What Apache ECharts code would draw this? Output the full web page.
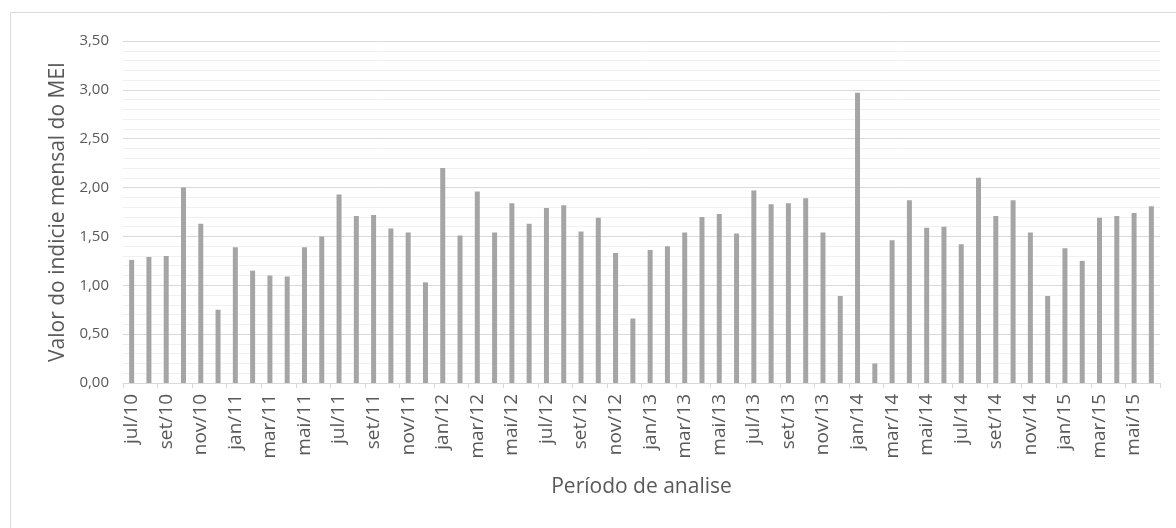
<!DOCTYPE html>
<html>
<head>
<meta charset="utf-8">
<script src="https://cdn.jsdelivr.net/npm/echarts@6/dist/echarts.min.js"></script>
<style>
  html, body { margin: 0; padding: 0; background: #ffffff; }
  #chart { width: 1176px; height: 528px; }
</style>
</head>
<body>
<div id="chart"></div>
<script>
// Monthly periods, jul/10 to jun/15
const months = ['jan', 'fev', 'mar', 'abr', 'mai', 'jun', 'jul', 'ago', 'set', 'out', 'nov', 'dez'];
const categories = [];
for (let i = 0; i < 60; i++) {
  const m = (6 + i) % 12;
  const y = 10 + Math.floor((6 + i) / 12);
  categories.push(months[m] + '/' + y);
}

// Monthly MEI index values
const meiValues = [
  1.26, 1.29, 1.30, 2.00, 1.63, 0.75,
  1.39, 1.15, 1.10, 1.09, 1.39, 1.50,
  1.93, 1.71, 1.72, 1.58, 1.54, 1.03,
  2.20, 1.51, 1.96, 1.54, 1.84, 1.63,
  1.79, 1.82, 1.55, 1.69, 1.33, 0.66,
  1.36, 1.40, 1.54, 1.70, 1.73, 1.53,
  1.97, 1.83, 1.84, 1.89, 1.54, 0.89,
  2.97, 0.20, 1.46, 1.87, 1.59, 1.60,
  1.42, 2.10, 1.71, 1.87, 1.54, 0.89,
  1.38, 1.25, 1.69, 1.71, 1.74, 1.81
];

const yTicks = { min: 0, max: 3.5, interval: 0.5 };

const FONT = '"Open Sans", "Noto Sans", sans-serif';
const TEXT = '#595959';

const chart = echarts.init(document.getElementById('chart'), null, { renderer: 'canvas' });
chart.setOption({
  animation: false,
  backgroundColor: '#ffffff',
  graphic: [{
    type: 'rect',
    shape: { x: 10.5, y: 12.5, width: 1200, height: 600 },
    style: { fill: 'none', stroke: '#d9d9d9', lineWidth: 1 },
    silent: true,
    z: -1
  }],
  grid: { left: 123, right: 16, top: 41, bottom: 145, containLabel: false },
  xAxis: {
    type: 'category',
    data: categories,
    name: 'Período de analise',
    nameLocation: 'middle',
    nameGap: 94,
    nameTextStyle: { fontFamily: FONT, fontSize: 21, color: TEXT },
    axisLine: { show: true, lineStyle: { color: '#d9d9d9', width: 1 } },
    axisTick: { show: true, interval: 1, length: 5, alignWithLabel: false, lineStyle: { color: '#d9d9d9' } },
    axisLabel: { interval: 1, rotate: 90, margin: 11, fontFamily: FONT, fontSize: 19, color: TEXT },
    splitLine: { show: false }
  },
  yAxis: {
    type: 'value',
    min: yTicks.min,
    max: yTicks.max,
    interval: yTicks.interval,
    name: 'Valor do indicie mensal do MEI',
    nameLocation: 'middle',
    nameGap: 52,
    nameTextStyle: { fontFamily: FONT, fontSize: 21, color: TEXT },
    axisLine: { show: false },
    axisTick: { show: false },
    axisLabel: {
      margin: 14,
      fontFamily: FONT, fontSize: 15, color: TEXT,
      formatter: v => v.toFixed(2).replace('.', ',')
    },
    splitLine: { show: true, lineStyle: { color: '#d9d9d9', width: 1 } },
    minorTick: { show: false, splitNumber: 5 },
    minorSplitLine: { show: true, lineStyle: { color: '#f0f0f0', width: 1 } }
  },
  series: [{
    type: 'bar',
    data: meiValues,
    barWidth: 5,
    itemStyle: { color: '#a5a5a5' }
  }]
});
</script>
</body>
</html>
